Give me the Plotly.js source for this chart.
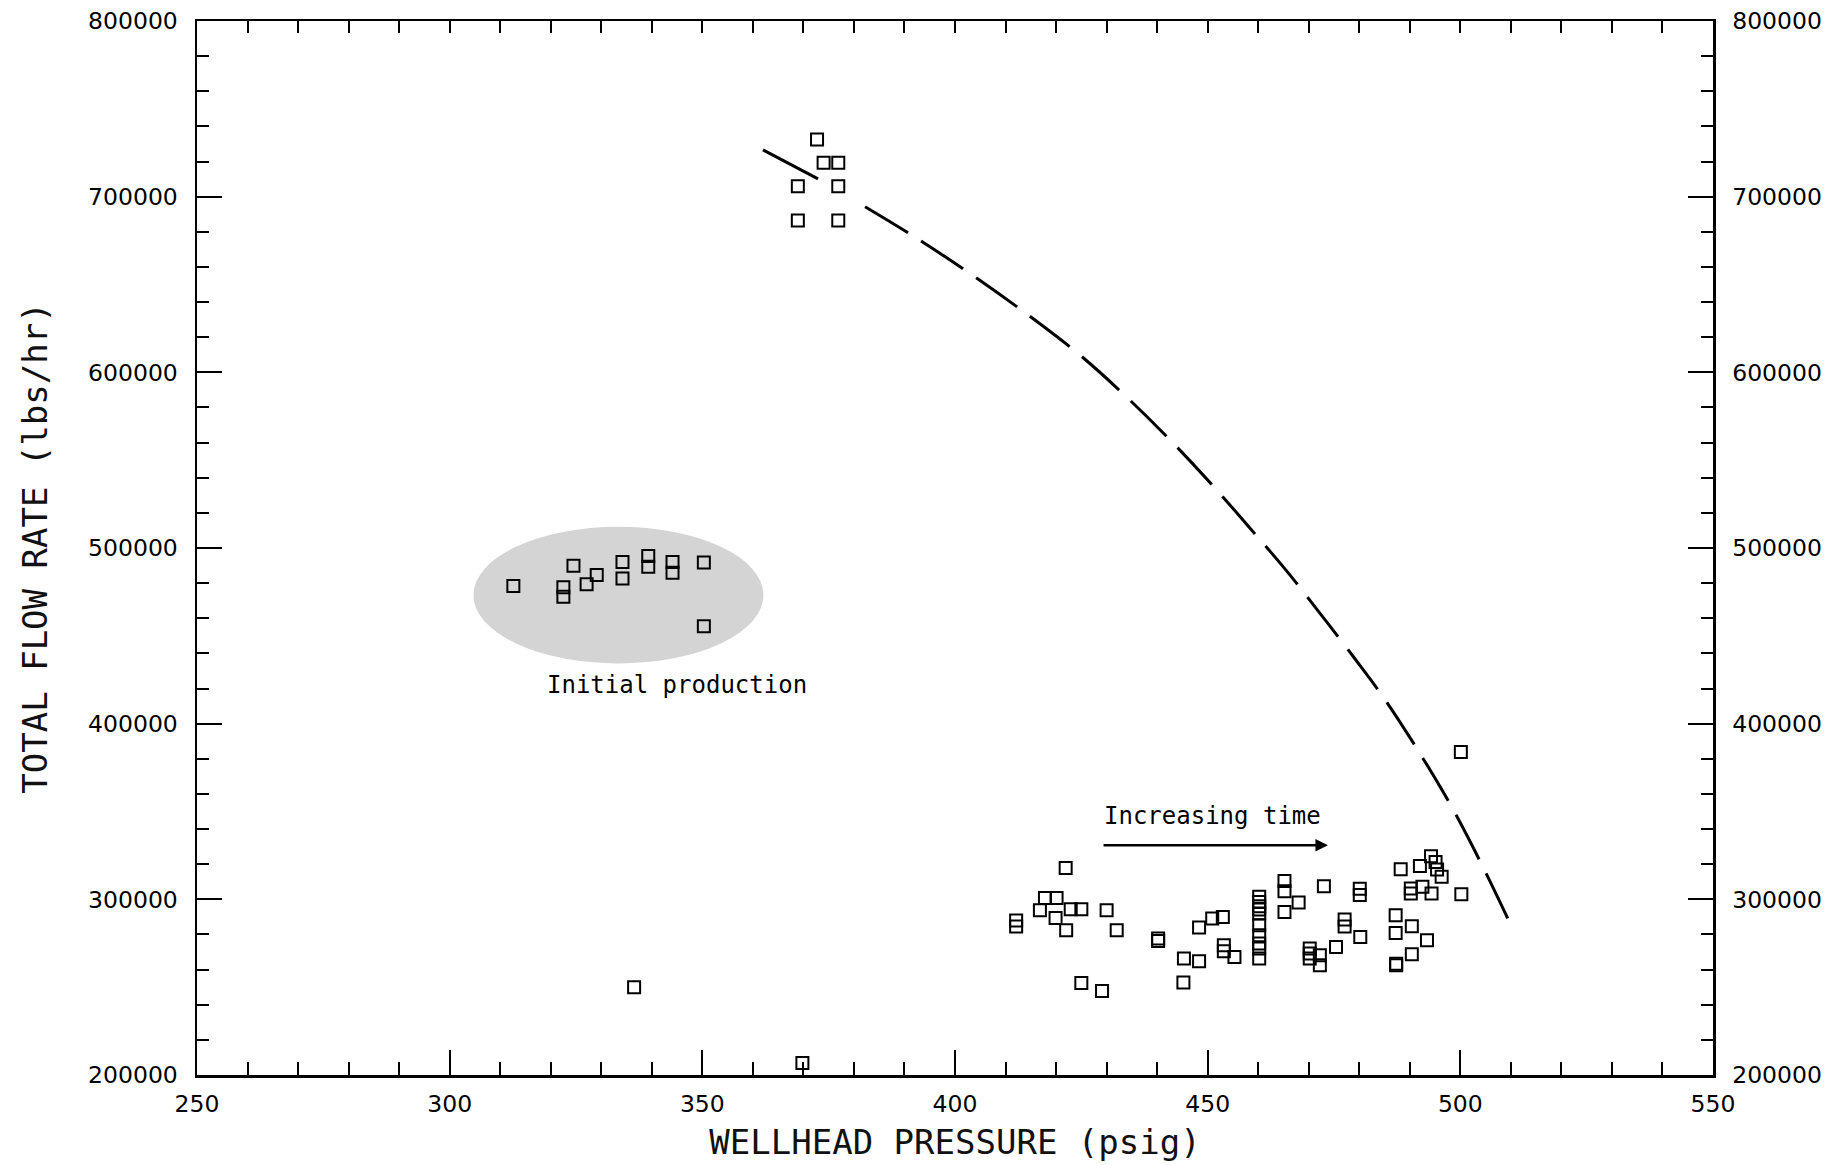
<!DOCTYPE html>
<html>
<head>
<meta charset="utf-8">
<script src="https://cdn.plot.ly/plotly-3.0.1.min.js"></script>
<style>html,body{margin:0;padding:0;background:#fff;}#chart{width:1838px;height:1165px;}</style>
</head>
<body>
<div id="chart"></div>
<script>
// ---- Data ----
// Early high-rate cluster
const topP = [372.7, 374.0, 376.9, 368.9, 376.9, 368.9, 376.9];
const topQ = [732500, 719300, 719300, 706000, 706000, 686400, 686400];

// Initial production cluster (shaded)
const initP = [312.6, 324.5, 322.5, 322.5, 327.1, 329.1, 334.2, 334.2, 339.3, 339.3, 344.1, 344.1, 350.3, 350.3];
const initQ = [478300, 489900, 477600, 472200, 479300, 484600, 492100, 482700, 495400, 489300, 492100, 485900, 491800, 455500];

// Isolated points
const isoP = [336.5, 369.8, 500.1];
const isoQ = [249900, 206800, 383900];

// Later production cluster
const lateP = [412.1, 412.1, 416.8, 417.8, 419.9, 420.1, 421.9, 422.0, 422.9, 425.0, 425.0, 429.1, 430.0, 432.0,
  440.2, 440.2, 445.2, 445.3, 448.3, 448.3, 450.9, 453.0, 453.2, 453.2, 455.3,
  460.2, 460.2, 460.2, 460.2, 460.2, 460.2, 460.2, 460.2, 460.2, 460.2,
  465.2, 465.2, 465.2, 468.0, 473.0, 470.2, 470.2, 470.2, 472.2, 472.2, 475.4,
  477.1, 477.1, 480.2, 480.1, 480.1, 487.2, 487.2, 487.3, 487.3, 488.2, 490.2, 490.2, 490.4, 490.4,
  492.0, 492.5, 493.4, 494.2, 494.3, 495.1, 495.4, 496.3, 500.2];
const lateQ = [288000, 284500, 293800, 300800, 289400, 300800, 317900, 282400, 294400, 294400, 252400, 247800, 293800, 282400,
  277700, 276300, 252600, 266300, 264800, 283900, 289100, 290000, 273900, 270500, 267200,
  301400, 298500, 296100, 294200, 291900, 285300, 279600, 274800, 272000, 266300,
  310500, 304600, 292800, 298200, 307500, 272000, 269100, 266300, 268200, 262500, 272900,
  288500, 284500, 278600, 306000, 302500, 290900, 280900, 263400, 262500, 317100, 306200, 303300, 284700, 268700,
  319000, 307100, 276700, 324500, 303300, 321300, 317000, 312800, 302900];

// Short solid line near the early cluster
const solidP = [362.0, 372.9];
const solidQ = [726600, 710100];

// Dashed curve
const curveP = [382.2, 391.4, 402.9, 414.5, 424.7, 433.9, 443.2, 452.1, 458.7, 465.5, 472.5, 479.1, 484.7, 491.6, 497.9, 503.8, 509.8];
const curveQ = [694300, 678200, 656400, 632600, 609900, 586100, 559600, 532000, 510200, 487400, 461800, 437100, 415300, 384900, 354600, 322300, 286600];

// Axis ranges
const xRange = [250, 550];
const yRange = [200000, 800000];

// ---- Styling ----
const mono = 'DejaVu Sans Mono, monospace';
const tickFont = {family: 'DejaVu Sans, sans-serif', size: 23.5, color: '#000'};
const marker = {symbol: 'square-open', size: 12, color: '#000', line: {width: 2, color: '#000'}};

const traces = [
  {x: topP, y: topQ, mode: 'markers', type: 'scatter', marker: marker},
  {x: initP, y: initQ, mode: 'markers', type: 'scatter', marker: marker},
  {x: isoP, y: isoQ, mode: 'markers', type: 'scatter', marker: marker},
  {x: lateP, y: lateQ, mode: 'markers', type: 'scatter', marker: marker},
  {x: solidP, y: solidQ, mode: 'lines', type: 'scatter', line: {color: '#000', width: 3}},
  {x: curveP, y: curveQ, mode: 'lines', type: 'scatter', line: {color: '#000', width: 3, dash: '50px,16px', shape: 'spline'}},
  {x: [], y: [], xaxis: 'x2', yaxis: 'y2', mode: 'markers', type: 'scatter'}
];

const layout = {
  width: 1838, height: 1165,
  margin: {l: 197, r: 125, t: 21, b: 90},
  paper_bgcolor: '#fff', plot_bgcolor: '#fff',
  showlegend: false,
  xaxis: {
    range: xRange, tick0: 250, dtick: 50,
    ticks: 'inside', ticklen: 25, tickwidth: 2, tickcolor: '#000',
    minor: {dtick: 10, ticks: 'inside', ticklen: 13, tickwidth: 2, tickcolor: '#000', showgrid: false},
    showline: true, linewidth: 2.5, linecolor: '#000',
    showgrid: false, zeroline: false,
    tickfont: tickFont, ticklabelstandoff: 6,
    title: {text: 'WELLHEAD PRESSURE (psig)', font: {family: mono, size: 34, color: '#111'}, standoff: 14}
  },
  xaxis2: {
    overlaying: 'x', side: 'top', range: xRange, tick0: 250, dtick: 10,
    ticks: 'inside', ticklen: 12, tickwidth: 2, tickcolor: '#000',
    showticklabels: false, showline: true, linewidth: 2.5, linecolor: '#000',
    showgrid: false, zeroline: false
  },
  yaxis: {
    range: yRange, tick0: 200000, dtick: 100000, tickformat: 'd',
    ticks: 'inside', ticklen: 25, tickwidth: 2, tickcolor: '#000',
    minor: {dtick: 20000, ticks: 'inside', ticklen: 12, tickwidth: 2, tickcolor: '#000', showgrid: false},
    showline: true, linewidth: 2.5, linecolor: '#000',
    showgrid: false, zeroline: false,
    tickfont: tickFont, ticklabelstandoff: 12,
    title: {text: 'TOTAL FLOW RATE (lbs/hr)', font: {family: mono, size: 34, color: '#111'}, standoff: 30}
  },
  yaxis2: {
    overlaying: 'y', side: 'right', range: yRange, tick0: 200000, dtick: 100000, tickformat: 'd',
    ticks: 'inside', ticklen: 25, tickwidth: 2, tickcolor: '#000',
    minor: {dtick: 20000, ticks: 'inside', ticklen: 12, tickwidth: 2, tickcolor: '#000', showgrid: false},
    showline: true, linewidth: 2.5, linecolor: '#000',
    showgrid: false, zeroline: false,
    tickfont: tickFont, ticklabelstandoff: 12
  },
  shapes: [
    {type: 'circle', xref: 'x', yref: 'y', x0: 304.7, x1: 362.1, y0: 434300, y1: 512100,
     fillcolor: 'rgba(0,0,0,0.17)', line: {width: 0}, layer: 'below'}
  ],
  annotations: [
    {x: 345.0, y: 421900, xref: 'x', yref: 'y', text: 'Initial production', showarrow: false,
     font: {family: mono, size: 24, color: '#000'}},
    {x: 451.0, y: 347300, xref: 'x', yref: 'y', text: 'Increasing time', showarrow: false,
     font: {family: mono, size: 24, color: '#000'}},
    {x: 473.8, y: 330800, ax: 429.1, ay: 330800, xref: 'x', yref: 'y', axref: 'x', ayref: 'y',
     text: '', showarrow: true, arrowhead: 2, arrowsize: 1, arrowwidth: 2.5, arrowcolor: '#000'}
  ]
};

Plotly.newPlot('chart', traces, layout, {staticPlot: true, displayModeBar: false});
</script>
</body>
</html>
